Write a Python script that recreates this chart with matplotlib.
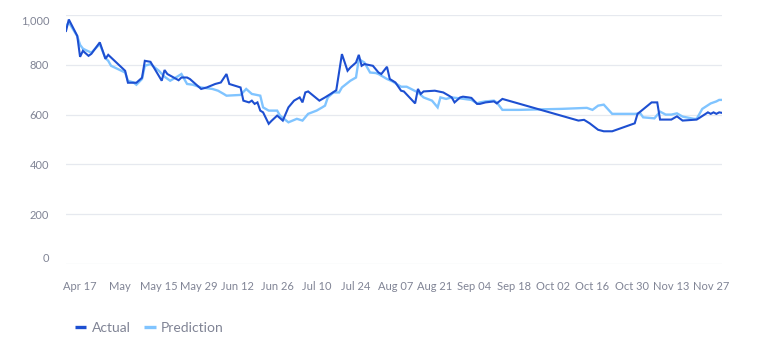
import matplotlib
matplotlib.use("Agg")
import matplotlib.pyplot as plt
from matplotlib.lines import Line2D
import pandas as pd

# values
actual_dates = [
    "2022-04-12", "2022-04-13", "2022-04-16", "2022-04-17", "2022-04-18", "2022-04-20",
    "2022-04-21", "2022-04-24", "2022-04-26", "2022-04-27", "2022-04-30", "2022-05-03",
    "2022-05-04", "2022-05-07", "2022-05-09", "2022-05-10", "2022-05-12", "2022-05-16",
    "2022-05-17", "2022-05-18", "2022-05-22", "2022-05-23", "2022-05-25", "2022-05-26",
    "2022-05-30", "2022-06-01", "2022-06-04", "2022-06-06", "2022-06-08", "2022-06-09",
    "2022-06-13", "2022-06-14", "2022-06-16", "2022-06-17", "2022-06-18", "2022-06-19",
    "2022-06-20", "2022-06-21", "2022-06-23", "2022-06-24", "2022-06-26", "2022-06-28",
    "2022-06-30", "2022-07-02", "2022-07-04", "2022-07-05", "2022-07-06", "2022-07-07",
    "2022-07-11", "2022-07-13", "2022-07-15", "2022-07-17", "2022-07-19", "2022-07-21",
    "2022-07-22", "2022-07-24", "2022-07-25", "2022-07-26", "2022-07-27", "2022-07-30",
    "2022-08-01", "2022-08-02", "2022-08-04", "2022-08-05", "2022-08-07", "2022-08-09",
    "2022-08-10", "2022-08-14", "2022-08-15", "2022-08-16", "2022-08-17", "2022-08-21",
    "2022-08-24", "2022-08-26", "2022-08-27", "2022-08-28", "2022-08-30", "2022-08-31",
    "2022-09-02", "2022-09-03", "2022-09-05", "2022-09-06", "2022-09-08", "2022-09-11",
    "2022-09-12", "2022-09-14", "2022-10-11", "2022-10-13", "2022-10-15", "2022-10-18",
    "2022-10-20", "2022-10-23", "2022-10-31", "2022-11-01", "2022-11-02", "2022-11-06",
    "2022-11-08", "2022-11-09", "2022-11-13", "2022-11-15", "2022-11-17", "2022-11-22",
    "2022-11-23", "2022-11-26", "2022-11-27", "2022-11-28", "2022-11-29", "2022-11-30",
    "2022-12-01",
]
actual_values = [
    936, 982, 916, 832, 856, 836,
    844, 890, 824, 840, 808, 776,
    728, 728, 748, 816, 812, 736,
    779, 763, 738, 749, 749, 743,
    703, 709, 723, 729, 763, 723,
    709, 656, 649, 656, 643, 649,
    616, 609, 563, 575, 596, 576,
    629, 656, 669, 649, 689, 693,
    656, 669, 683, 698, 843, 776,
    789, 809, 840, 796, 803, 796,
    769, 763, 792, 743, 729, 696,
    693, 645, 703, 683, 693, 696,
    689, 676, 669, 649, 669, 672,
    669, 667, 643, 643, 649, 653,
    645, 663, 576, 579, 565, 539,
    533, 533, 565, 603, 612, 649,
    649, 580, 580, 593, 576, 580,
    587, 609, 603, 609, 603, 609,
    607,
]

pred_dates = [
    "2022-04-12", "2022-04-13", "2022-04-16", "2022-04-17", "2022-04-18", "2022-04-19",
    "2022-04-21", "2022-04-24", "2022-04-26", "2022-04-27", "2022-04-28", "2022-05-03",
    "2022-05-04", "2022-05-06", "2022-05-07", "2022-05-09", "2022-05-10", "2022-05-12",
    "2022-05-15", "2022-05-17", "2022-05-19", "2022-05-21", "2022-05-23", "2022-05-25",
    "2022-05-27", "2022-05-30", "2022-06-03", "2022-06-05", "2022-06-07", "2022-06-08",
    "2022-06-13", "2022-06-15", "2022-06-17", "2022-06-20", "2022-06-21", "2022-06-23",
    "2022-06-26", "2022-06-27", "2022-06-30", "2022-07-03", "2022-07-05", "2022-07-07",
    "2022-07-10", "2022-07-12", "2022-07-13", "2022-07-14", "2022-07-16", "2022-07-18",
    "2022-07-19", "2022-07-22", "2022-07-24", "2022-07-25", "2022-07-27", "2022-07-29",
    "2022-07-31", "2022-08-01", "2022-08-04", "2022-08-06", "2022-08-09", "2022-08-11",
    "2022-08-15", "2022-08-17", "2022-08-20", "2022-08-22", "2022-08-23", "2022-08-25",
    "2022-08-27", "2022-08-30", "2022-09-03", "2022-09-05", "2022-09-06", "2022-09-08",
    "2022-09-11", "2022-09-12", "2022-09-14", "2022-09-20", "2022-10-05", "2022-10-14",
    "2022-10-16", "2022-10-18", "2022-10-20", "2022-10-23", "2022-10-31", "2022-11-02",
    "2022-11-03", "2022-11-07", "2022-11-09", "2022-11-11", "2022-11-13", "2022-11-15",
    "2022-11-17", "2022-11-21", "2022-11-22", "2022-11-24", "2022-11-27", "2022-11-29",
    "2022-11-30", "2022-12-01",
]
pred_values = [
    955, 970, 915, 880, 865, 859,
    849, 883, 827, 816, 796, 769,
    736, 729, 720, 743, 796, 803,
    776, 752, 736, 749, 763, 723,
    720, 709, 703, 696, 683, 676,
    679, 703, 683, 676, 629, 616,
    616, 596, 569, 583, 576, 603,
    616, 629, 636, 669, 689, 689,
    709, 736, 749, 823, 809, 769,
    767, 763, 743, 733, 712, 712,
    689, 669, 656, 629, 669, 663,
    669, 665, 659, 645, 649, 653,
    656, 649, 619, 619, 623, 627,
    619, 636, 640, 603, 603, 605,
    589, 585, 612, 600, 600, 605,
    592, 583, 583, 623, 645, 653,
    659, 659,
]

dark_blue = "#1d4fd1"
light_blue = "#80c4ff"
text_grey = "#808495"
grid_grey = "#e6e9ef"

plt.rcParams["font.family"] = ["Lato", "DejaVu Sans"]

fig = plt.figure(figsize=(7.58, 3.63), dpi=100)
ax = fig.add_axes([66 / 758, 1 - 264 / 363, (722 - 66) / 758, (264 - 15) / 363])

xa = pd.to_datetime(actual_dates)
xp = pd.to_datetime(pred_dates)

ax.plot(xp, pred_values, color=light_blue, lw=1.7, solid_joinstyle="miter", zorder=3)
ax.plot(xa, actual_values, color=dark_blue, lw=1.5, solid_joinstyle="miter", zorder=4)

ax.set_xlim(xa.min(), xa.max())
ax.set_ylim(0, 1000)
ax.set_yticks([0, 200, 400, 600, 800, 1000])
ax.yaxis.set_major_formatter(plt.FuncFormatter(lambda v, p: f"{int(v):,}"))

ticks = pd.date_range("2022-04-17", "2022-11-27", freq="14D")
ax.set_xticks(ticks)
ax.set_xticklabels([t.strftime("%b") if t.day == 1 else t.strftime("%b %d") for t in ticks])

ax.grid(axis="y", color=grid_grey, lw=0.9)
ax.set_axisbelow(True)
for s in ax.spines.values():
    s.set_visible(False)
ax.tick_params(axis="both", length=0, colors=text_grey, labelsize=8)
ax.tick_params(axis="y", pad=12)
ax.tick_params(axis="x", pad=12)

# flush the end labels like the original
ylabels = ax.get_yticklabels()
ylabels[0].set_verticalalignment("bottom")
ylabels[-1].set_verticalalignment("top")

handles = [
    Line2D([], [], color=dark_blue, lw=2.4, solid_capstyle="butt"),
    Line2D([], [], color=light_blue, lw=2.4, solid_capstyle="butt"),
]
leg = fig.legend(handles, ["Actual", "Prediction"], loc="center left",
                 bbox_to_anchor=(75 / 758, 1 - 328 / 363), ncol=2, frameon=False,
                 borderpad=0, borderaxespad=0,
                 handlelength=0.8, handletextpad=0.4, columnspacing=1.0, fontsize=10)
for t in leg.get_texts():
    t.set_color(text_grey)

fig.savefig("out.png", dpi=100)
